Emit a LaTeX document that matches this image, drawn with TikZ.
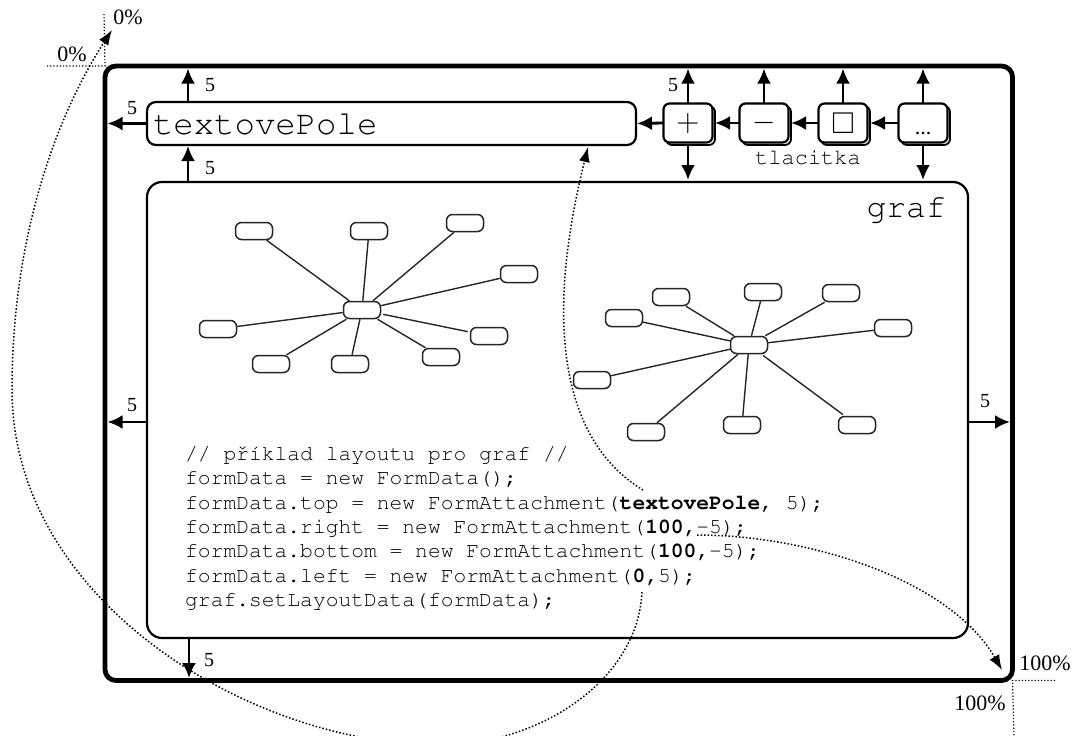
\documentclass[tikz,border=0pt]{standalone}
\usepackage{fix-cm}
\usepackage{amssymb}
\usepackage[T1]{fontenc}
\usepackage{fontspec}
\setmainfont{Liberation Serif}
\newcommand{\kodfont}{\fontencoding{T1}\fontfamily{pcr}\selectfont}
\usetikzlibrary{arrows.meta}
\usetikzlibrary{positioning}
\usetikzlibrary{shadows}

\tikzset{
  okno/.style={draw, line width=4.8pt, rounded corners=11pt, outer sep=0pt, inner sep=0pt},
  pole/.style={draw, line width=2.2pt, rounded corners=9pt, outer sep=0pt},
  tlacitko/.style={draw, line width=2.2pt, rounded corners=6pt, fill=white, outer sep=0pt, inner sep=0pt,
    minimum width=49pt, minimum height=39pt,
    general shadow={shadow xshift=2.5pt, shadow yshift=-2.5pt, draw=black, fill=white, line width=1.8pt}},
  uzel/.style={draw=black!85, line width=1.5pt, rounded corners=6pt, minimum width=37pt, minimum height=17pt, inner sep=0pt},
  hrana/.style={draw=black!85, line width=1.4pt, shorten <=2pt, shorten >=2pt},
  sipka/.style={line width=2.8pt, -{Latex[length=15pt,width=14pt]}},
  odkaz/.style={line width=1.5pt, dotted, -{Latex[length=15pt,width=11pt]}},
  voditko/.style={line width=1.2pt, dotted},
  cislo/.style={font=\fontsize{20}{20}\selectfont, inner sep=0pt},
  procenta/.style={font=\fontsize{22}{22}\selectfont, inner sep=0pt},
  kod/.style={font=\kodfont\fontsize{21.3}{24.3}\selectfont, align=left, inner sep=0pt},
}

\begin{document}
\begin{tikzpicture}[x=1pt, y=-1pt]
\useasboundingbox (0,0) rectangle (1076,736);

% okno a jeho rohy
\node[okno, minimum width=907.5pt, minimum height=614.5pt, anchor=north west] (okno) at (105,66) {};
\draw[voditko] (47,66) -- (okno.north west) -- (104,12);
\draw[voditko] (1055,680.5) -- (okno.south east) -- (1014,736);
\node[procenta] (p1) at (128,17) {0\%};
\node[procenta] (p2) at (72,54) {0\%};
\node[procenta] (p3) at (1045,663) {100\%};
\node[procenta] (p4) at (980,703) {100\%};

% textove pole
\node[pole, minimum width=489pt, minimum height=43pt, text width=477pt, inner xsep=6pt, align=left,
  anchor=north west, font=\kodfont\fontsize{34}{34}\selectfont] (pole) at (147,102) {textovePole};

% tlacitka
\node[tlacitko] (plus) at (688,123) {\fontsize{32}{32}\selectfont$+$};
\node[tlacitko, right=27pt of plus] (minus) {\fontsize{30}{30}\selectfont$-$};
\node[tlacitko, right=30pt of minus] (ctverec) {\fontsize{30}{30}\selectfont$\square$};
\node[tlacitko, right=31pt of ctverec, text height=22pt, text depth=0pt, font=\fontsize{22}{22}\selectfont] (tecky) {...};
\node[font=\kodfont\fontsize{22}{22}\selectfont, inner sep=0pt] (tlacitka) at (808,158) {tlacitka};

% graf
\node[pole, rounded corners=15pt, minimum width=821pt, minimum height=456pt, anchor=north west] (graf) at (147,182) {};
\node[font=\kodfont\fontsize{33}{33}\selectfont, inner sep=0pt, anchor=north east] (grafnapis) at ([xshift=-22pt,yshift=-14pt]graf.north east) {graf};

% sipky s odsazenim
\draw[sipka, shorten >=2.5pt] ([xshift=41pt]pole.north west) -- ([xshift=41pt]pole.north west |- okno.north);
\draw[sipka, shorten >=2.5pt] (pole.west) -- (pole.west -| okno.west);
\draw[sipka, shorten >=1pt] ([xshift=41pt]graf.north west) -- ([xshift=41pt]graf.north west |- pole.south);
\draw[sipka, shorten >=2.5pt] ([yshift=-12pt]graf.west) -- ([yshift=-12pt]graf.west -| okno.west);
\draw[sipka, shorten >=2.5pt] ([yshift=-12pt]graf.east) -- ([yshift=-12pt]graf.east -| okno.east);
\draw[sipka, shorten >=2.5pt] ([xshift=42pt]graf.south west) -- ([xshift=42pt]graf.south west |- okno.south);
\node[cislo] (n1) at (210,85) {5};
\node[cislo] (n2) at (132,108) {5};
\node[cislo] (n3) at (210,168) {5};
\node[cislo] (n4) at (673,85) {5};
\node[cislo] (n5) at (132,405) {5};
\node[cislo] (n6) at (985,401) {5};
\node[cislo] (n7) at (209,660) {5};

\draw[sipka, shorten >=2.5pt] (tecky.west) -- (ctverec.east);
\draw[sipka, shorten >=2.5pt] (ctverec.west) -- (minus.east);
\draw[sipka, shorten >=2.5pt] (minus.west) -- (plus.east);
\draw[sipka, shorten >=1pt] (plus.west) -- (pole.east);
\draw[sipka, shorten >=2.5pt] (plus.north) -- (plus.north |- okno.north);
\draw[sipka, shorten >=2.5pt] (minus.north) -- (minus.north |- okno.north);
\draw[sipka, shorten >=2.5pt] (ctverec.north) -- (ctverec.north |- okno.north);
\draw[sipka, shorten >=2.5pt] (tecky.north) -- (tecky.north |- okno.north);
\draw[sipka, shorten <=3pt, shorten >=2pt] (plus.south) -- (plus.south |- graf.north);
\draw[sipka, shorten <=3pt, shorten >=2pt] (tecky.south) -- (tecky.south |- graf.north);

% prvni hvezda
\node[uzel] (s1) at (362,310) {};
\node[uzel] (s1a) at (254,231) {};
\node[uzel] (s1b) at (369,231) {};
\node[uzel] (s1c) at (465,223) {};
\node[uzel] (s1d) at (519,274) {};
\node[uzel] (s1e) at (218,329) {};
\node[uzel] (s1f) at (271,364) {};
\node[uzel] (s1g) at (350,364) {};
\node[uzel] (s1h) at (441,357) {};
\node[uzel] (s1i) at (489,336) {};
\draw[hrana] (s1) -- (s1a) (s1) -- (s1b) (s1) -- (s1c) (s1) -- (s1d) (s1) -- (s1e)
  (s1) -- (s1f) (s1) -- (s1g) (s1) -- (s1h) (s1) -- (s1i);

% druha hvezda
\node[uzel] (s2) at (749,345) {};
\node[uzel] (s2a) at (671,297) {};
\node[uzel] (s2b) at (624,318) {};
\node[uzel] (s2c) at (763,292) {};
\node[uzel] (s2d) at (841,293) {};
\node[uzel] (s2e) at (893,328) {};
\node[uzel] (s2f) at (592,380) {};
\node[uzel] (s2g) at (646,432) {};
\node[uzel] (s2h) at (742,425) {};
\node[uzel] (s2i) at (857,425) {};
\draw[hrana] (s2) -- (s2a) (s2) -- (s2b) (s2) -- (s2c) (s2) -- (s2d) (s2) -- (s2e)
  (s2) -- (s2f) (s2) -- (s2g) (s2) -- (s2h) (s2) -- (s2i);

% kod
\node[kod, anchor=north west] (kod) at (185,446) {// p\v{r}\'{i}klad layoutu pro graf //\\
formData = new FormData();\\
formData.top = new FormAttachment(\textbf{textovePole}, 5);\\
formData.right = new FormAttachment(\textbf{100,}-5);\\
formData.bottom = new FormAttachment(\textbf{100,}-5);\\
formData.left = new FormAttachment(\textbf{0,}5);\\
graf.setLayoutData(formData);};

% odkazy
\coordinate (nula) at (642,592);
\coordinate (nulacil) at (112,30);
\coordinate (polezdroj) at (643,490);
\coordinate (polecil) at (588,147);
\coordinate (sto) at (697,535);
\coordinate (stocil) at (1002,670);
\draw[odkaz] (nula) .. controls (638,680) and (540,745) .. (440,745)
  .. controls (250,745) and (12,600) .. (12,390)
  .. controls (12,230) and (60,110) .. (nulacil);
\draw[odkaz] (polezdroj) .. controls (560,440) and (545,320) .. (polecil);
\draw[odkaz] (sto) .. controls (810,535) and (950,580) .. (stocil);
\end{tikzpicture}
\end{document}
